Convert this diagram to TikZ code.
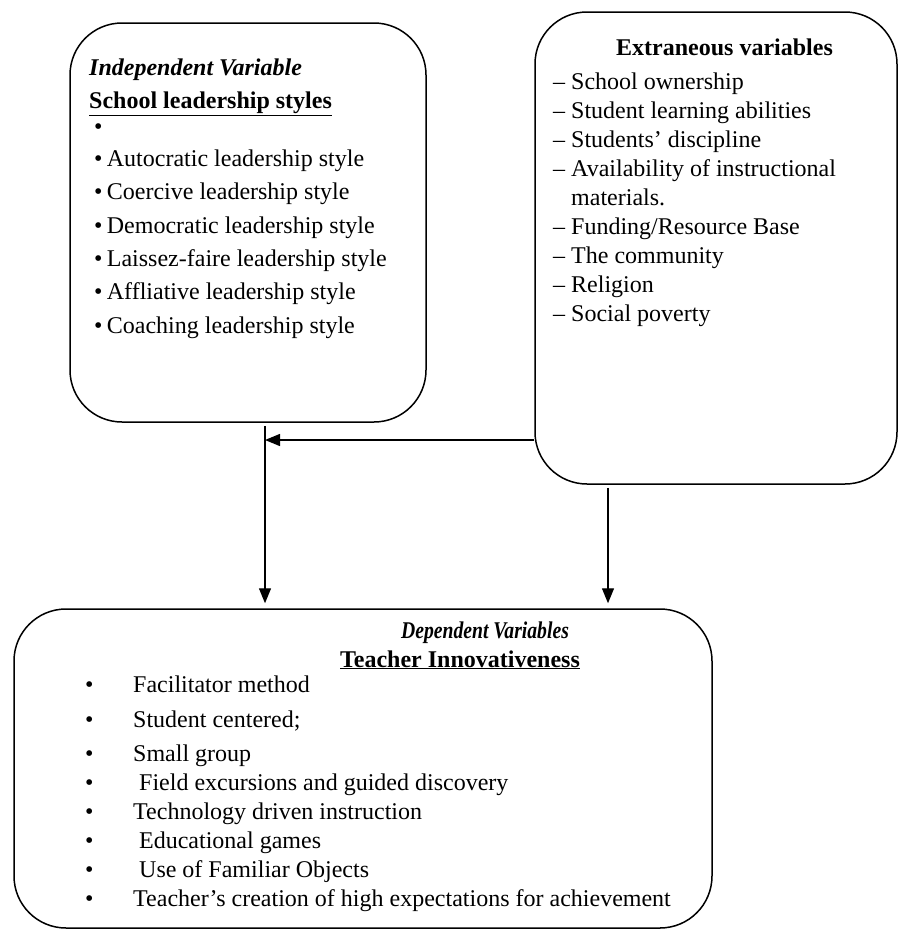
\documentclass[tikz,border=0pt]{standalone}
\usepackage{fontspec}
\setmainfont{Liberation Serif}
\usetikzlibrary{arrows.meta}

\tikzset{
    varbox/.style={draw, line width=1.5pt, rounded corners=52pt, inner sep=0pt},
    boxtext/.style={inner sep=0pt, align=left, anchor=base west},
    boxhead/.style={inner sep=0pt, anchor=base, font=\fontsize{24}{29}\selectfont\bfseries},
    link/.style={line width=1.3pt, -{Triangle[length=15pt,width=12pt]}},
}

\begin{document}
\begin{tikzpicture}[x=1pt, y=-1pt, font=\fontsize{24}{29}\selectfont]
    \useasboundingbox (0,0) rectangle (900,930);

    % the three boxes
    \node[varbox, minimum width=356pt, minimum height=399pt] (indep) at (248,222.5) {};
    \node[varbox, minimum width=362pt, minimum height=472pt] (extra) at (716,248) {};
    \node[varbox, minimum width=698pt, minimum height=319pt] (dep) at (363,768.5) {};

    % independent variable (anchored on its last line)
    \node[boxtext, font=\fontsize{24}{33.3}\selectfont] (indeptext) at (89,333) {
        \textbf{\textit{Independent Variable}}\\
        \textbf{\underline{School leadership styles}}\\[-7.3pt]
        \hspace{4.8pt}•\\[-1.3pt]
        \hspace{4.8pt}•\hspace{4.5pt}Autocratic leadership style\\
        \hspace{4.8pt}•\hspace{4.5pt}Coercive leadership style\\
        \hspace{4.8pt}•\hspace{4.5pt}Democratic leadership style\\
        \hspace{4.8pt}•\hspace{4.5pt}Laissez-faire leadership style\\
        \hspace{4.8pt}•\hspace{4.5pt}Affliative leadership style\\
        \hspace{4.8pt}•\hspace{4.5pt}Coaching leadership style
    };

    % extraneous variables
    \node[boxhead] (extrahead) at (724.5,55) {Extraneous variables};
    \node[boxtext] (extratext) at (553,321) {
        – School ownership\\
        – Student learning abilities\\
        – Students’ discipline\\
        – Availability of instructional\\
        \phantom{– }materials.\\
        – Funding/Resource Base\\
        – The community\\
        – Religion\\
        – Social poverty
    };

    % dependent variables
    \node[boxhead] (dephead) at (485,638) {\scalebox{0.82}[1]{\textit{Dependent Variables}}};
    \node[boxhead] (depsub) at (460,667) {\underline{Teacher Innovativeness}};
    \node[boxtext] (deptext) at (85,906) {
        \makebox[48pt][l]{•}Facilitator method\\[6pt]
        \makebox[48pt][l]{•}Student centered;\\[5pt]
        \makebox[48pt][l]{•}Small group\\
        \makebox[48pt][l]{•} Field excursions and guided discovery\\
        \makebox[48pt][l]{•}Technology driven instruction\\
        \makebox[48pt][l]{•} Educational games\\
        \makebox[48pt][l]{•} Use of Familiar Objects\\
        \makebox[48pt][l]{•}Teacher’s creation of high expectations for achievement
    };

    % connectors
    \coordinate (joint) at (265,440);
    \coordinate (extdrop) at (608,440);
    \draw[link] (extra.west |- joint) -- (joint);
    \draw[link, shorten <=3pt, shorten >=5pt] (indep.south -| joint) -- (dep.north -| joint);
    \draw[link, shorten <=3pt, shorten >=5pt] (extra.south -| extdrop) -- (dep.north -| extdrop);
\end{tikzpicture}
\end{document}
